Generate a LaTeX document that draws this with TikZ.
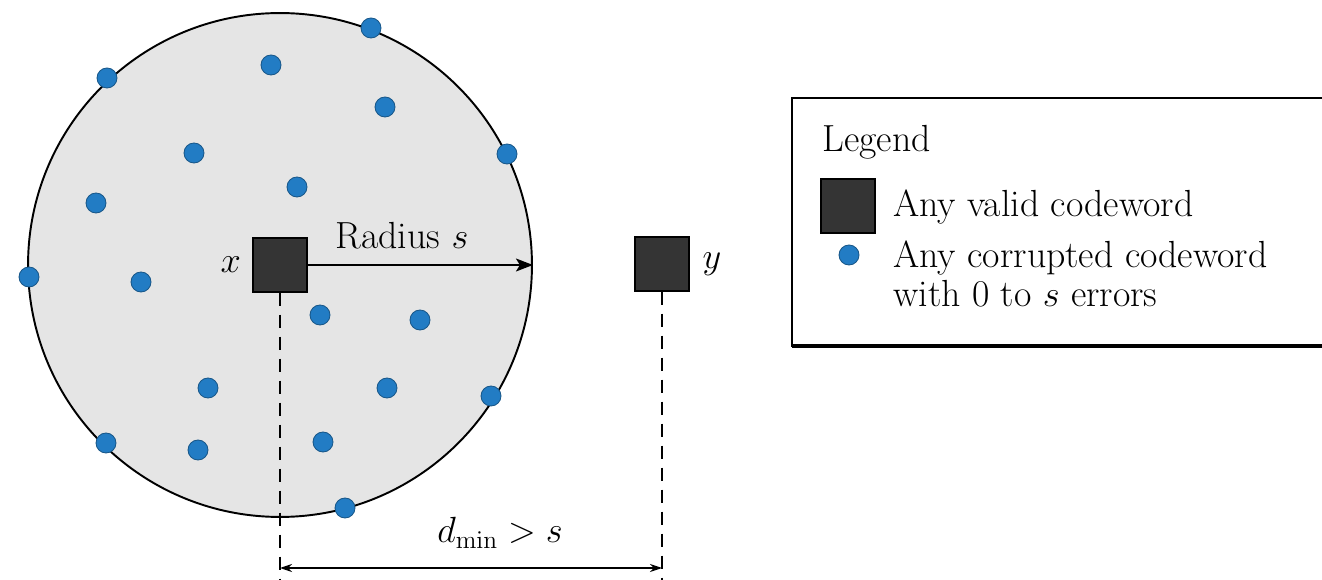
\documentclass[tikz,border=0pt]{standalone}
\usetikzlibrary{positioning,arrows.meta}
\definecolor{DotBlue}{RGB}{34,124,196}
\definecolor{DiskGray}{RGB}{229,229,229}
\definecolor{WordGray}{RGB}{52,52,52}

\begin{document}
\begin{tikzpicture}[x=0.02cm, y=-0.02cm,
  disk/.style={circle, draw=black, fill=DiskGray, line width=1.1pt,
    minimum size=10.08cm, inner sep=0pt},
  cword/.style={rectangle, draw=black, fill=WordGray, line width=0.8pt,
    minimum width=1.08cm, minimum height=1.08cm, inner sep=0pt},
  bad/.style={circle, draw=DotBlue!70!black, fill=DotBlue, line width=0.5pt,
    minimum size=0.4cm, inner sep=0pt},
  lbl/.style={font=\fontsize{21.5}{22}\selectfont, inner sep=0pt},
  rarr/.style={-{Stealth[length=3.4mm, width=2.6mm, inset=0.8mm]}, line width=1pt},
  darr/.style={{Stealth[length=2.4mm, width=1.6mm]}-{Stealth[length=2.4mm, width=1.6mm]},
    line width=0.7pt},
  guide/.style={dash pattern=on 0.26cm off 0.18cm, line width=0.8pt},
]
\useasboundingbox (0,0) rectangle (1322,580);
\clip (0,0) rectangle (1322,580);
% Sphere of radius s round x
\node[disk] (ball) at (280,265) {};
% Corrupted codewords
\foreach \px/\py [count=\i] in {371/28, 107/78, 271/65, 385/107, 507/154,
    194/153, 297/187, 96/203, 29/277, 141/282, 320/315, 420/320,
    208/388, 387/388, 491/396, 106/443, 198/450, 323/442, 345/508}
  \node[bad] (d\i) at (\px,\py) {};
% Valid codewords
\node[cword] (x) at (280,265) {};
\node[cword] (y) at (662,264) {};
\node[lbl, left=0.22cm of x] (xlab) {$x$};
\node[lbl, right=0.25cm of y] (ylab) {$y$};
% Radius
\draw[rarr] (x.east) -- (ball.east);
\node[lbl, anchor=base] (rad) at (402,249) {Radius $s$};
% Distance
\coordinate (xfoot) at (280,580);
\coordinate (yfoot) at (662,580);
\coordinate (xa) at (280,568);
\coordinate (ya) at (662,568);
\draw[guide] (x.south) -- (xfoot);
\draw[guide] (y.south) -- (yfoot);
\draw[darr] (xa) -- (ya);
\node[lbl, anchor=base] (dmin) at (500,543) {$d_{\mathrm{min}} > s$};
% Legend
\draw[line width=0.9pt] (792,98) rectangle (1340,346);
\draw[line width=2.2pt] (792,346) -- (1340,346);
\node[lbl, anchor=base west] (legt) at (822,152) {Legend};
\node[cword] (legw) at (848,206) {};
\node[bad] (legd) at (849,255) {};
\node[lbl, anchor=base west] (legwt) at (893,217) {Any valid codeword};
\node[lbl, anchor=base west] (legdt) at (893,268) {Any corrupted codeword};
\node[lbl, anchor=base west] (legdt2) at (893,307) {with 0 to $s$ errors};
\end{tikzpicture}
\end{document}
